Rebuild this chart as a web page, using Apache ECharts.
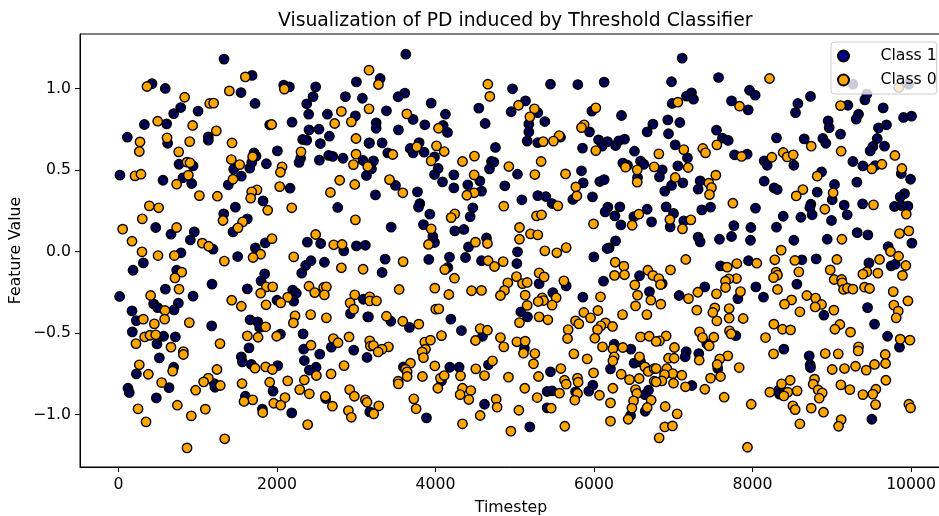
<!DOCTYPE html>
<html><head><meta charset="utf-8">
<style>html,body{margin:0;padding:0;background:#fff}#c{width:939px;height:516px}</style>
<script src="https://cdn.jsdelivr.net/npm/echarts@6/dist/echarts.min.js"></script>
</head><body><div id="c"></div>
<script>
const chartTitle = "Visualization of PD induced by Threshold Classifier";
const xName = "Timestep";
const yName = "Feature Value";
const xTicks = [0,2000,4000,6000,8000,10000];
const yTicks = [-1,-0.5,0,0.5,1];
const class1Points = [
[1333,1.18],[1686,1.08],[424,1.03],[592,1.0],[2086,1.02],[2157,1.01],[2489,1.01],[3003,1.04],[1547,.975],[2864,.95],[3078,.94],[2456,.95],[2376,.906],[1724,.908],[786,.883],[698,.846],[1005,.861],[2401,.842],[2637,.842],[2990,.832],[609,.783],[328,.779],[2191,.793],[1909,.777],[2405,.746],[2531,.75],[113,.701],[2662,.707],[1135,.703],[1135,.683],[622,.664],[2325,.687],[2376,.683],[2548,.662],[3162,.664],[2006,.617],[1711,.605],[1737,.585],[2300,.572],[2279,.546],[2536,.56],[2653,.589],[2704,.583],[2834,.572],[3087,.558],[765,.535],[942,.525],[1867,.538],[1657,.511],[1682,.546],[1455,.505],[1551,.462],[3129,.466],[20,.468],[563,.437],[815,.452],[925,.417],[1387,.409],[2166,.388],[1825,.31],[1476,.272],[2767,.27],[1329,.231],[1627,.2],[471,.147],[1446,.12],[958,.12],[664,.106],[908,.071],[1194,.014],[1728,.022],[1854,.053],[2384,.057],[2552,.049],[2843,.004],[3003,.034],[3116,.038],
[790,-.008],[1505,-.031],[315,-.07],[185,-.115],[736,-.115],[2363,-.086],[2430,-.057],[2313,-.133],[2599,-.066],[1846,-.137],[1800,-.18],[1181,-.2],[593,-.231],[1627,-.229],[16,-.276],[942,-.274],[2199,-.237],[2245,-.256],[2212,-.305],[2001,-.299],[445,-.321],[496,-.344],[757,-.317],[702,-.358],[172,-.364],[227,-.424],[3091,-.293],[2927,-.381],[3146,-.401],[1661,-.419],[1758,-.432],[1783,-.466],[1177,-.456],[176,-.493],[571,-.52],[719,-.524],[487,-.567],[2044,-.507],[2330,-.505],[1648,-.591],[2338,-.599],[2687,-.587],[2969,-.605],[2540,-.63],[1551,-.646],[3137,-.65],[1564,-.677],[517,-.653],[2346,-.669],[698,-.71],[1678,-.693],[2010,-.7],[2494,-.71],[2409,-.728],[227,-.751],[121,-.839],[138,-.865],[639,-.835],[1211,-.81],[1219,-.833],[479,-.898],[1951,-.857],[1602,-.888],[2616,-.902],[1816,-.967],[2187,-.99],[3171,-.984],
[3626,1.21],[3302,1.061],[4972,.998],[5451,1.026],[5796,1.024],[6128,1.039],[3613,.971],[3529,.949],[3946,.91],[3382,.863],[4126,.842],[4547,.879],[5136,.924],[4955,.857],[5291,.852],[5973,.861],[6347,.834],[3718,.81],[3252,.789],[3252,.756],[3533,.746],[3866,.777],[4097,.773],[4152,.73],[4627,.785],[5380,.797],[5178,.781],[5178,.734],[5943,.734],[6671,.734],[6743,.781],[3167,.666],[3327,.666],[3794,.668],[3681,.632],[3718,.605],[3857,.609],[5157,.677],[5291,.668],[5578,.701],[5855,.634],[6057,.685],[6170,.674],[6103,.646],[6272,.65],[6313,.679],[6385,.689],[6511,.615],[4757,.638],[3399,.605],[3988,.58],[3218,.556],[3193,.507],[4707,.552],[4736,.548],[4682,.507],[4034,.509],[3988,.472],[4232,.47],[4089,.427],[4232,.39],[4560,.433],[4408,.409],[4581,.37],[5035,.474],[4875,.403],[3496,.405],[3243,.347],[3773,.366],[3803,.294],[3786,.272],[3929,.229],[4471,.268],[4438,.214],[5090,.317],[5291,.343],[5392,.337],[5472,.294],[5733,.319],[5981,.335],[5842,.495],[5864,.421],[6074,.429],[6128,.441],[6364,.542],[6423,.529],[6587,.554],[6629,.535],[6549,.454],[6175,.272],[6326,.274],[6141,.243],[6263,.218],[6671,.259],[6503,.214],[6726,.182],[6339,.163],[3441,.149],[3849,.165],[4244,.126],[4358,.135],[3967,.092],[3988,.055],[4644,.083],[4417,.028],[5035,-.002],[6272,.065],[6191,.022],[6166,.018],
[3365,-.047],[3916,-.049],[4177,-.035],[4379,-.037],[4581,-.057],[5027,-.074],[5998,-.033],[3327,-.129],[4156,-.098],[6120,-.182],[6574,-.149],[5308,-.197],[5649,-.211],[6700,-.246],[5481,-.252],[5859,-.28],[5077,-.37],[5161,-.401],[3155,-.401],[3437,-.428],[3672,-.466],[4194,-.415],[4328,-.485],[4593,-.52],[5123,-.595],[6255,-.569],[6465,-.599],[6507,-.685],[6587,-.677],[3596,-.708],[4181,-.71],[4299,-.71],[4669,-.695],[6208,-.72],[5451,-.738],[4076,-.794],[5985,-.82],[5935,-.857],[5409,-.859],[5472,-.855],[5767,-.861],[6688,-.851],[6642,-.878],[4619,-.937],[6646,-.98],[5409,-.959],[6461,-1.006],[3887,-1.021],[5190,-1.076],
[7112,1.186],[6978,1.041],[7571,1.067],[7962,.989],[8033,.959],[7230,.973],[7167,.953],[7255,.934],[6986,.908],[7735,.924],[7945,.869],[8572,.908],[8731,.951],[8542,.852],[9203,.897],[9417,.93],[9266,1.026],[9442,.965],[9968,1.026],[9648,.881],[9337,.842],[9308,.812],[9905,.822],[10006,.83],[6931,.807],[7083,.791],[8954,.801],[8967,.76],[9589,.758],[9690,.777],[9110,.72],[7545,.744],[6940,.722],[8302,.697],[7621,.695],[7693,.681],[8652,.691],[8887,.693],[8925,.664],[9573,.693],[9518,.644],[9484,.617],[9665,.646],[7024,.654],[7773,.593],[7932,.597],[7179,.574],[7058,.525],[6860,.501],[6826,.458],[8147,.556],[8185,.529],[8521,.529],[9266,.552],[9392,.525],[9547,.527],[8870,.488],[9876,.478],[9993,.443],[7121,.421],[6978,.405],[6893,.37],[7339,.433],[7314,.382],[8147,.431],[8273,.39],[8311,.38],[9316,.425],[9034,.411],[8816,.364],[9005,.317],[9917,.355],[9863,.335],[6910,.274],[7003,.233],[7360,.255],[7470,.272],[8037,.266],[8736,.29],[8723,.27],[9156,.284],[9388,.292],[9791,.276],[9876,.282],[9960,.278],[8387,.216],[8610,.21],[8752,.225],[9194,.225],[7133,.188],[6961,.151],[7764,.159],[7979,.147],[8302,.149],[8996,.19],[9320,.116],[9455,.102],[7314,.088],[7339,.059],[7583,.075],[7735,.092],[7974,.069],[8521,.069],[8942,.075],[10010,.051],[9711,.03],
[7596,-.088],[7949,-.057],[8622,-.051],[8803,-.045],[9468,-.07],[9749,-.088],[9800,-.078],[7398,-.217],[7074,-.27],[8042,-.217],[8559,-.2],[7815,-.289],[8138,-.28],[9451,-.344],[8900,-.391],[9539,-.446],[7789,-.516],[7423,-.565],[9703,-.52],[9854,-.587],[8395,-.599],[8715,-.64],[8727,-.695],[8731,-.712],[7163,-.614],[7150,-.646],[7322,-.626],[7562,-.718],[7234,-.822],[8332,-.851],[8340,-.875],[9505,-1.029],[6860,-.197]
];
const class0Points = [
[1602,1.071],[361,1.012],[2094,.996],[1400,.985],[836,.946],[1152,.908],[1202,.91],[3162,1.112],[3162,.875],[2813,.859],[496,.799],[2939,.795],[2729,.785],[937,.773],[1934,.779],[1236,.74],[614,.697],[2998,.693],[273,.672],[900,.674],[1434,.666],[264,.613],[761,.611],[2304,.611],[2998,.597],[1694,.581],[1425,.564],[866,.548],[904,.544],[1530,.533],[2965,.533],[3146,.521],[2065,.519],[2044,.486],[210,.464],[285,.474],[883,.468],[1446,.443],[2792,.437],[735,.413],[2982,.411],[2035,.398],[2675,.362],[1749,.378],[1682,.366],[1669,.327],[1022,.343],[1249,.339],[391,.28],[508,.268],[1884,.253],[2187,.268],[302,.2],[1320,.19],[1568,.182],[1509,.145],[2990,.194],[54,.137],[735,.147],[172,.063],[1938,.079],[2489,.104],[1059,.051],[1139,.032],[2717,.041],[2822,.043],
[298,-.002],[500,-.025],[706,-.025],[1795,-.017],[1699,-.037],[2212,-.033],[1337,-.059],[2813,-.1],[3087,-.109],[799,-.127],[714,-.162],[1867,-.217],[1947,-.217],[2405,-.213],[2590,-.221],[2624,-.217],[765,-.231],[1795,-.256],[2477,-.252],[2599,-.266],[407,-.27],[2136,-.28],[2982,-.266],[3171,-.278],[2923,-.315],[3171,-.303],[1430,-.299],[2048,-.315],[1551,-.336],[1863,-.327],[2969,-.354],[588,-.362],[584,-.415],[315,-.415],[2426,-.387],[2624,-.407],[2229,-.395],[2208,-.438],[895,-.436],[454,-.444],[1858,-.462],[332,-.524],[399,-.514],[471,-.511],[1627,-.518],[1762,-.526],[1997,-.52],[2910,-.524],[2712,-.534],[2771,-.56],[222,-.565],[1282,-.565],[2430,-.575],[664,-.587],[3171,-.548],[3179,-.58],[820,-.614],[820,-.632],[264,-.695],[1244,-.724],[1724,-.716],[1858,-.708],[1943,-.724],[2847,-.7],[685,-.734],[378,-.753],[2498,-.761],[2683,-.751],[2346,-.788],[2136,-.794],[1135,-.777],[1076,-.8],[546,-.804],[1560,-.81],[1909,-.802],[1286,-.822],[975,-.851],[2288,-.847],[2409,-.873],[2918,-.847],[2977,-.888],[2611,-.888],[2102,-.896],[1694,-.91],[1585,-.92],[1960,-.931],[2048,-.943],[2700,-.949],[3116,-.91],[3137,-.925],[744,-.943],[248,-.965],[1097,-.967],[1821,-.988],[2902,-.976],[920,-1.008],[2939,-1.017],[349,-1.045],[2388,-1.062],[1341,-1.149],[866,-1.205],
[3281,1.024],[4661,1.026],[4686,.951],[5048,.897],[5249,.875],[6023,.881],[3639,.844],[5191,.826],[4038,.756],[5876,.777],[5842,.76],[5561,.711],[5359,.674],[5489,.677],[3765,.642],[4013,.648],[4110,.613],[6023,.619],[3462,.595],[3946,.556],[4341,.552],[4492,.585],[5333,.552],[6398,.517],[6545,.501],[6759,.519],[4926,.521],[4488,.47],[5254,.472],[5641,.476],[6545,.425],[3420,.441],[5771,.396],[3588,.36],[4488,.36],[4396,.345],[5784,.341],[4862,.278],[5544,.28],[4244,.231],[4198,.208],[5275,.218],[5338,.225],[6566,.229],[5994,.169],[6482,.161],[3946,.139],[5060,.147],[5199,.108],[5291,.102],[5060,.075],[4505,.057],[4656,.049],[3912,.043],[5649,.024],[5380,.004],[5531,-.008],
[3592,-.062],[4665,-.057],[4854,-.062],[4745,-.092],[4118,-.111],[4240,-.164],[6267,-.066],[6377,-.09],[6259,-.147],[6385,-.143],[6679,-.115],[6743,-.147],[5308,-.131],[5371,-.156],[5022,-.154],[4913,-.192],[5098,-.197],[5157,-.19],[5620,-.18],[6515,-.205],[3542,-.233],[3992,-.225],[4455,-.241],[4581,-.239],[4169,-.264],[4871,-.239],[4820,-.27],[5132,-.268],[6082,-.278],[6549,-.268],[6717,-.299],[3256,-.303],[5346,-.284],[5363,-.301],[5296,-.307],[5523,-.284],[5472,-.329],[5157,-.331],[6524,-.334],[4004,-.354],[4042,-.352],[6049,-.362],[5872,-.374],[6360,-.387],[6667,-.387],[3382,-.397],[5956,-.407],[5308,-.401],[5418,-.419],[3588,-.428],[3790,-.446],[5060,-.436],[5767,-.426],[5809,-.444],[6145,-.438],[6086,-.456],[6234,-.46],[6044,-.479],[4564,-.473],[4656,-.483],[5674,-.479],[4076,-.516],[6587,-.524],[6696,-.52],[4820,-.528],[5666,-.534],[6011,-.532],[3866,-.556],[3937,-.544],[4505,-.546],[5027,-.554],[5132,-.55],[3218,-.577],[3407,-.585],[3327,-.599],[3277,-.616],[4862,-.585],[6107,-.585],[6364,-.589],[6238,-.597],[3874,-.599],[3832,-.616],[5254,-.626],[5110,-.624],[5746,-.628],[3849,-.651],[5914,-.659],[6255,-.646],[6238,-.671],[6574,-.646],[3685,-.685],[5237,-.689],[3992,-.702],[4719,-.671],[4509,-.72],[5582,-.718],[6642,-.708],[6684,-.736],[6759,-.718],[3622,-.722],[3643,-.738],[3643,-.767],[3836,-.767],[4316,-.763],[4619,-.761],[4921,-.771],[5300,-.767],[5994,-.745],[6343,-.753],[6448,-.786],[6570,-.779],[4063,-.777],[4110,-.761],[3529,-.796],[3533,-.812],[5628,-.79],[5649,-.814],[5792,-.777],[5800,-.802],[6759,-.796],[4030,-.839],[4341,-.839],[5127,-.839],[6238,-.839],[6524,-.847],[4446,-.853],[4311,-.878],[6541,-.871],[5565,-.869],[5792,-.871],[6069,-.882],[5283,-.896],[3727,-.904],[4421,-.908],[4766,-.906],[5758,-.912],[6499,-.916],[6721,-.912],[6208,-.929],[3285,-.947],[4778,-.955],[6478,-.961],[6671,-.957],[3756,-.965],[5460,-.961],[5052,-.974],[3222,-.996],[4564,-1.006],[6431,-1.029],[6208,-1.041],[4341,-1.057],[5632,-1.072],[4951,-1.102],
[7058,.916],[8214,1.061],[7836,.891],[9110,.895],[8740,.646],[9118,.615],[7550,.654],[7133,.625],[7373,.632],[7407,.605],[6818,.599],[7861,.583],[8244,.578],[8387,.607],[8437,.58],[8513,.593],[9796,.589],[7188,.515],[9632,.535],[9505,.507],[9884,.509],[7537,.468],[8816,.462],[7024,.454],[7449,.419],[7482,.392],[7457,.349],[8635,.38],[8551,.341],[9017,.36],[7752,.296],[8912,.259],[9526,.286],[9939,.229],[6957,.196],[7222,.194],[7116,.139],[9854,.11],[9972,.126],[9127,.075],[8361,.008],[9741,0],[9846,1.006],
[7158,-.049],[6965,-.113],[7802,-.074],[7680,-.096],[8054,-.072],[8281,-.051],[8534,-.055],[9064,-.049],[9842,-.029],[9602,-.049],[9934,-.086],[8980,-.113],[8584,-.125],[8298,-.127],[8315,-.145],[8265,-.16],[9442,-.125],[9392,-.139],[9581,-.133],[9892,-.147],[6818,-.166],[6839,-.203],[7798,-.166],[7701,-.168],[7659,-.182],[7659,-.221],[7848,-.246],[9030,-.172],[9123,-.172],[9131,-.192],[9148,-.233],[9198,-.225],[9266,-.231],[9413,-.219],[9476,-.227],[9775,-.246],[8315,-.233],[7310,-.25],[7545,-.26],[7192,-.289],[6843,-.323],[8685,-.27],[8795,-.286],[8492,-.297],[8403,-.323],[8870,-.325],[8790,-.34],[9960,-.303],[9783,-.329],[7297,-.36],[7524,-.346],[7499,-.374],[7705,-.35],[7705,-.409],[7882,-.411],[7550,-.426],[8597,-.37],[9026,-.36],[9838,-.366],[9812,-.407],[8269,-.446],[9102,-.448],[8378,-.477],[8479,-.481],[9039,-.477],[9236,-.495],[7331,-.493],[7369,-.528],[7512,-.526],[7709,-.487],[7730,-.505],[6910,-.518],[6826,-.548],[6784,-.552],[8164,-.528],[9863,-.538],[9985,-.544],[7453,-.579],[7015,-.589],[9337,-.585],[9333,-.61],[8917,-.626],[9081,-.628],[8265,-.628],[9674,-.632],[7688,-.64],[7587,-.659],[6940,-.655],[7011,-.655],[7327,-.667],[9678,-.687],[7554,-.693],[9539,-.693],[9299,-.704],[9434,-.728],[9160,-.718],[9005,-.724],[7831,-.712],[6919,-.718],[6784,-.718],[6994,-.749],[7108,-.759],[6889,-.755],[7470,-.777],[7596,-.767],[6856,-.794],[6784,-.8],[7003,-.808],[7154,-.83],[8475,-.79],[9682,-.79],[8366,-.812],[8782,-.783],[8765,-.814],[9114,-.818],[9228,-.847],[7398,-.845],[8828,-.849],[8879,-.867],[8841,-.9],[9556,-.845],[9518,-.875],[9392,-.878],[8218,-.863],[8445,-.863],[8395,-.886],[8563,-.855],[7642,-.894],[6898,-.951],[7983,-.937],[8509,-.947],[8538,-.97],[8740,-.961],[8895,-.986],[9552,-.939],[9972,-.937],[9993,-.959],[7049,-.996],[8597,-1.057],[9118,-1.031],[9085,-1.072],[6893,-1.076],[6990,-1.07],[6822,-1.143],[7936,-1.201]
];

const font = "DejaVu Sans";
function stripePattern(){
  const s=5, cv=document.createElement('canvas'); cv.width=s; cv.height=s;
  const g=cv.getContext('2d');
  g.fillStyle='#0000f0'; g.fillRect(0,0,s,s);
  g.strokeStyle='#000'; g.lineWidth=1.4;
  for(let k=-s;k<=2*s;k+=s){ g.beginPath(); g.moveTo(k-s,2*s); g.lineTo(k+s,0); g.stroke(); }
  return {image:cv,repeat:'repeat'};
}
const chart = echarts.init(document.getElementById('c'), null, {renderer:'canvas'});
const axisCommon = {
  axisLine:{show:true,onZero:false,lineStyle:{color:'#000',width:1}},
  axisTick:{show:true,length:5,lineStyle:{color:'#000',width:1}},
  splitLine:{show:false},
  nameLocation:'middle',
  nameMoveOverlap:false,
  nameTextStyle:{color:'#000',fontFamily:font,fontSize:15.7}
};
const dotStyle1 = {color:stripePattern(),borderColor:'#000',borderWidth:1.4,opacity:1};
const dotStyle0 = {color:'#ffa500',borderColor:'#000',borderWidth:1.4,opacity:1};
chart.setOption({
  animation:false,
  backgroundColor:'#fff',
  title:{text:chartTitle,top:12,left:278,padding:0,
    textStyle:{color:'#000',fontFamily:font,fontSize:18.8,fontWeight:'normal'}},
  grid:{left:80,right:-3,top:34,bottom:49,containLabel:false,outerBoundsMode:'none',show:true,borderColor:'#000',borderWidth:1,backgroundColor:'transparent'},
  xAxis:Object.assign({},axisCommon,{type:'value',min:-484,max:10390,name:xName,nameGap:33,
    axisTick:Object.assign({},axisCommon.axisTick,{customValues:xTicks}),
    axisLabel:{customValues:xTicks,color:'#000',fontFamily:font,fontSize:15.7,margin:10,formatter:v=>String(v)}}),
  yAxis:Object.assign({},axisCommon,{type:'value',min:-1.322,max:1.334,name:yName,nameGap:56,
    axisTick:Object.assign({},axisCommon.axisTick,{customValues:yTicks}),
    axisLabel:{customValues:yTicks,color:'#000',fontFamily:font,fontSize:15.7,margin:9,formatter:v=>v.toFixed(1).replace('-','\u2212')}}),
  legend:{left:831,top:42,orient:'vertical',padding:[6,0,6,6],itemWidth:30,itemHeight:11,itemGap:8,
    backgroundColor:'rgba(255,255,255,0.8)',borderColor:'#ccc',borderWidth:1,borderRadius:3,
    formatter:'{g|}{t|{name}}',
    textStyle:{color:'#000',fontFamily:font,fontSize:15.7,
      rich:{g:{width:17,fontSize:15.7},t:{color:'#000',fontFamily:font,fontSize:15.7,padding:[0,10,0,0]}}},
    data:[{name:'Class 1',icon:'circle'},{name:'Class 0',icon:'circle'}]},
  series:[
    {name:'Class 1',type:'scatter',symbolSize:9.4,data:class1Points,itemStyle:dotStyle1,z:2},
    {name:'Class 0',type:'scatter',symbolSize:9.4,data:class0Points,itemStyle:dotStyle0,z:3}
  ]
});
</script></body></html>
